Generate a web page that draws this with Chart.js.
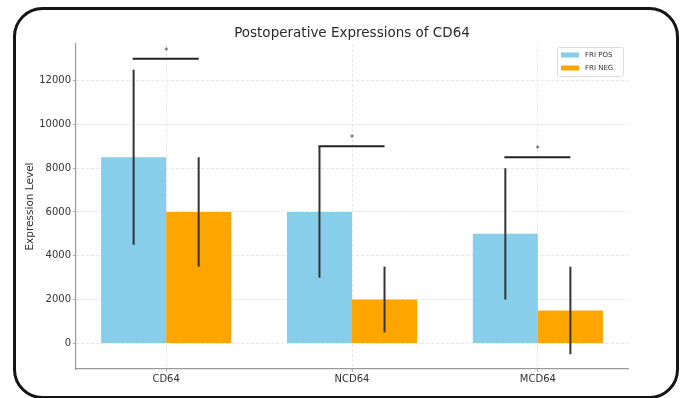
<!DOCTYPE html>
<html>
<head>
<meta charset="utf-8">
<script src="https://cdn.jsdelivr.net/npm/chart.js@4.4.1/dist/chart.umd.min.js"></script>
<style>
  html, body { margin: 0; padding: 0; background: #ffffff; }
  #wrap { width: 684px; height: 398px; }
</style>
</head>
<body>
<div id="wrap"><canvas id="c" width="684" height="398"></canvas></div>
<script>
const categories = ['CD64', 'NCD64', 'MCD64'];
const seriesNames = ['FRI POS', 'FRI NEG'];
const posValues = [8500, 6000, 5000];
const negValues = [6000, 2000, 1500];
const posErrors = [4000, 3000, 3000];
const negErrors = [2500, 1500, 2000];
const sigLevels = [13000, 9000, 8500];
const sigMarks = ['*', '*', '*'];
const yTicks = [0, 2000, 4000, 6000, 8000, 10000, 12000];

const FONT = "'DejaVu Sans', sans-serif";
const errorsByDataset = [posErrors, negErrors];

const framePlugin = {
  id: 'frame',
  afterDraw(chart) {
    const ctx = chart.ctx;
    ctx.save();
    ctx.strokeStyle = '#151515';
    ctx.lineWidth = 3;
    ctx.beginPath();
    ctx.roundRect(14.5, 8.5, 663, 389, 28);
    ctx.stroke();
    ctx.restore();
  }
};

const errorPlugin = {
  id: 'errorbars',
  afterDatasetsDraw(chart) {
    const ctx = chart.ctx;
    const y = chart.scales.y;
    const x = chart.scales.x;
    ctx.save();
    chart.data.datasets.forEach((ds, d) => {
      const meta = chart.getDatasetMeta(d);
      meta.data.forEach((bar, i) => {
        const v = ds.data[i].y;
        const e = errorsByDataset[d][i];
        ctx.strokeStyle = '#333333';
        ctx.lineWidth = 2;
        ctx.beginPath();
        ctx.moveTo(bar.x, y.getPixelForValue(v - e));
        ctx.lineTo(bar.x, y.getPixelForValue(v + e));
        ctx.stroke();
      });
    });
    const m0 = chart.getDatasetMeta(0), m1 = chart.getDatasetMeta(1);
    sigLevels.forEach((lvl, i) => {
      const yy = y.getPixelForValue(lvl);
      ctx.strokeStyle = '#222222';
      ctx.lineWidth = 2;
      ctx.beginPath();
      ctx.moveTo(m0.data[i].x - 1, yy);
      ctx.lineTo(m1.data[i].x, yy);
      ctx.stroke();
      ctx.fillStyle = '#333333';
      ctx.font = '8px ' + FONT;
      ctx.textAlign = 'center';
      ctx.textBaseline = 'middle';
      ctx.fillText(sigMarks[i], x.getPixelForValue(i), yy - 7);
    });
    ctx.restore();
  }
};

const legendPlugin = {
  id: 'boxlegend',
  afterDraw(chart) {
    const ctx = chart.ctx;
    const ca = chart.chartArea;
    const w = 66, h = 29;
    const left = ca.right - 5 - w, top = ca.top + 3;
    ctx.save();
    ctx.fillStyle = 'rgba(255,255,255,0.85)';
    ctx.strokeStyle = '#dddddd';
    ctx.lineWidth = 1;
    ctx.beginPath();
    ctx.roundRect(left + 0.5, top + 0.5, w, h, 2);
    ctx.fill();
    ctx.stroke();
    ctx.font = '7px ' + FONT;
    ctx.textBaseline = 'middle';
    ctx.textAlign = 'left';
    chart.data.datasets.forEach((ds, d) => {
      const cy = top + 8 + d * 13;
      ctx.fillStyle = ds.backgroundColor;
      ctx.fillRect(left + 4, cy - 2.5, 18, 5);
      ctx.fillStyle = '#333333';
      ctx.fillText(ds.label, left + 28, cy);
    });
    ctx.restore();
  }
};

new Chart(document.getElementById('c'), {
  type: 'bar',
  data: {
    datasets: [
      {
        label: seriesNames[0],
        data: posValues.map((v, i) => ({ x: i, y: v })),
        backgroundColor: '#87CEEB',
        borderWidth: 0
      },
      {
        label: seriesNames[1],
        data: negValues.map((v, i) => ({ x: i, y: v })),
        backgroundColor: '#FFA500',
        borderWidth: 0
      }
    ]
  },
  options: {
    responsive: false,
    animation: false,
    devicePixelRatio: 1,
    categoryPercentage: 0.7,
    barPercentage: 1.0,
    layout: { padding: { left: 0, right: 56, top: 0, bottom: 0 } },
    plugins: {
      legend: { display: false },
      tooltip: { enabled: false },
      title: {
        display: true,
        text: 'Postoperative Expressions of CD64',
        fullSize: false,
        color: '#2a2a2a',
        font: { family: FONT, size: 13.5, weight: 'normal' },
        padding: { top: 24.9, bottom: 2.9 }
      }
    },
    scales: {
      x: {
        type: 'linear',
        offset: false,
        min: -0.485,
        max: 2.485,
        afterBuildTicks: (s) => { s.ticks = categories.map((_, i) => ({ value: i })); },
        afterFit: (s) => { s.height = 29; },
        ticks: {
          autoSkip: false,
          callback: (v) => categories[v],
          color: '#333333',
          font: { family: FONT, size: 10 },
          padding: 1,
          maxRotation: 0
        },
        grid: {
          offset: false,
          color: '#e2e2e2',
          lineWidth: 0.8,
          tickColor: '#999999',
          tickLength: 3,
          tickBorderDash: []
        },
        border: { color: '#999999', width: 1.2, dash: [3, 2] }
      },
      y: {
        min: -1175,
        max: 13675,
        afterBuildTicks: (s) => { s.ticks = yTicks.map(v => ({ value: v })); },
        afterFit: (s) => { s.width = 76; },
        ticks: {
          color: '#333333',
          font: { family: FONT, size: 10 },
          padding: 2,
          callback: (v) => String(v)
        },
        grid: {
          color: '#e2e2e2',
          lineWidth: 0.8,
          tickColor: '#999999',
          tickLength: 3,
          tickBorderDash: []
        },
        border: { color: '#999999', width: 1.2, dash: [3, 2] },
        title: {
          display: true,
          text: 'Expression Level',
          color: '#333333',
          font: { family: FONT, size: 10.5 },
          padding: { top: 23.5, bottom: 0 }
        }
      }
    }
  },
  plugins: [errorPlugin, legendPlugin, framePlugin]
});
</script>
</body>
</html>
